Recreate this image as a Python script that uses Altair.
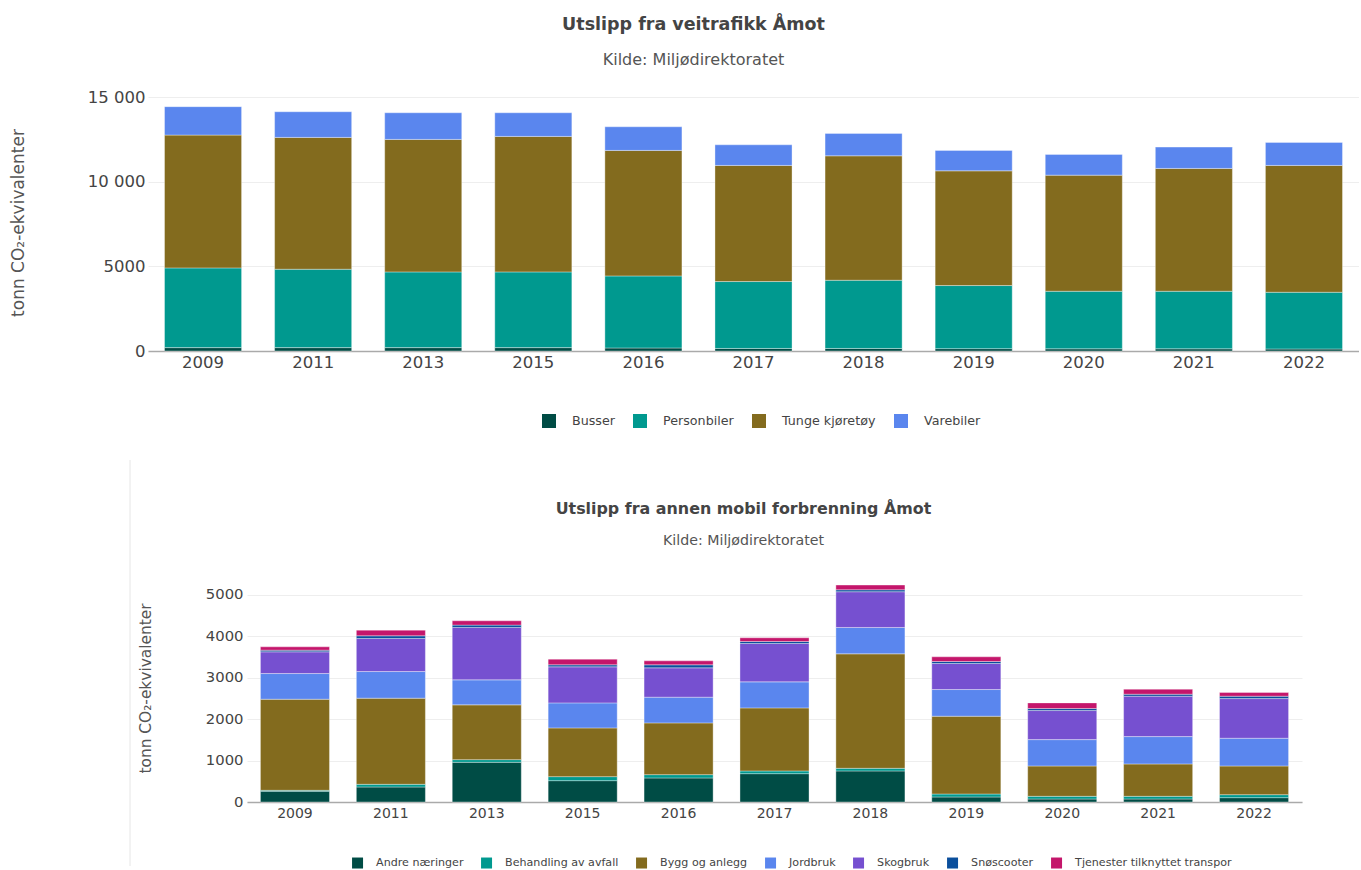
import altair as alt
import pandas as pd

FONT = "DejaVu Sans"

years = ["2009", "2011", "2013", "2015", "2016", "2017", "2018", "2019", "2020", "2021", "2022"]

# --- Utslipp fra veitrafikk ---
top_names = ["Busser", "Personbiler", "Tunge kjøretøy", "Varebiler"]
top_colors = ["#004c45", "#00998f", "#836b1e", "#5a86ee"]
busser = [200, 200, 200, 200, 180, 150, 150, 140, 130, 130, 120]
personbiler = [4714, 4636, 4477, 4477, 4260, 3958, 4035, 3732, 3404, 3404, 3355]
tunge = [7856, 7797, 7838, 8015, 7424, 6867, 7359, 6784, 6867, 7264, 7500]
varebiler = [1680, 1517, 1575, 1398, 1397, 1220, 1326, 1208, 1226, 1261, 1362]

# --- Utslipp fra annen mobil forbrenning ---
bot_names = ["Andre næringer", "Behandling av avfall", "Bygg og anlegg", "Jordbruk",
             "Skogbruk", "Snøscooter", "Tjenester tilknyttet transpor"]
bot_colors = ["#004c45", "#00998f", "#836b1e", "#5a86ee", "#7650d0", "#0b4f9c", "#c4166b"]
andre = [258, 362, 958, 515, 580, 684, 749, 121, 72, 72, 105]
behandling = [24, 65, 64, 97, 80, 65, 64, 72, 65, 65, 72]
bygg = [2197, 2077, 1321, 1175, 1248, 1521, 2761, 1876, 732, 781, 692]
jordbruk = [620, 643, 603, 604, 620, 628, 636, 644, 636, 660, 669]
skogbruk = [523, 797, 1264, 869, 708, 926, 862, 628, 701, 974, 957]
snoscooter = [41, 65, 57, 49, 73, 48, 48, 48, 48, 48, 57]
tjenester = [80, 137, 104, 137, 96, 89, 113, 113, 137, 121, 88]


def long(names, series):
    rows = []
    for i, (n, vals) in enumerate(zip(names, series)):
        for y, v in zip(years, vals):
            rows.append({"year": y, "serie": n, "value": v, "idx": i})
    return pd.DataFrame(rows)


top_df = long(top_names, [busser, personbiler, tunge, varebiler])
bot_df = long(bot_names, [andre, behandling, bygg, jordbruk, skogbruk, snoscooter, tjenester])

label_expr = "datum.value >= 10000 ? replace(format(datum.value, ','), ',', ' ') : format(datum.value, 'd')"

top_chart = alt.Chart(top_df).mark_bar(stroke="white", strokeWidth=0.6, strokeOpacity=0.6).encode(
    x=alt.X("year:N", sort=years, title=None,
            scale=alt.Scale(paddingInner=0.3, paddingOuter=0.15),
            axis=alt.Axis(labelAngle=0, labelFont=FONT, labelFontSize=16.5, labelColor="#444",
                          ticks=False, domainColor="#aaa", domainWidth=1.5, labelPadding=3, grid=False)),
    y=alt.Y("value:Q", stack="zero", scale=alt.Scale(domain=[0, 15200], nice=False),
            axis=alt.Axis(values=[0, 5000, 10000, 15000], labelExpr=label_expr,
                          labelFont=FONT, labelFontSize=16.5, labelColor="#444", labelPadding=3,
                          title="tonn CO₂-ekvivalenter", titleFont=FONT, titleFontSize=17,
                          titleFontWeight="normal", titleColor="#555", titlePadding=60,
                          grid=True, gridColor="#eeeeee", domain=False, ticks=False)),
    color=alt.Color("serie:N", scale=alt.Scale(domain=top_names, range=top_colors),
                    legend=alt.Legend(orient="none", legendX=534, legendY=320, direction="horizontal",
                                      title=None, symbolType="square", symbolSize=196,
                                      symbolStrokeWidth=0, labelFont=FONT, labelFontSize=12.7,
                                      labelColor="#444", labelOffset=16, columnPadding=18, padding=0,
                                      labelLimit=300)),
    order=alt.Order("idx:Q", sort="ascending"),
).properties(
    width=1211, height=257,
    title=alt.TitleParams(text="Utslipp fra veitrafikk Åmot", subtitle="Kilde: Miljødirektoratet",
                          anchor="middle", frame="group", dx=-60, font=FONT, fontSize=17.5,
                          fontWeight="bold", color="#444", subtitleFont=FONT, subtitleFontSize=16,
                          subtitleColor="#555", subtitlePadding=19, offset=21),
)

bot_chart = alt.Chart(bot_df).mark_bar(stroke="white", strokeWidth=0.6, strokeOpacity=0.6).encode(
    x=alt.X("year:N", sort=years, title=None,
            scale=alt.Scale(paddingInner=0.28, paddingOuter=0.14),
            axis=alt.Axis(labelAngle=0, labelFont=FONT, labelFontSize=14, labelColor="#444",
                          ticks=False, domainColor="#aaa", domainWidth=1.5, labelPadding=4, grid=False)),
    y=alt.Y("value:Q", stack="zero", scale=alt.Scale(domain=[0, 5500], nice=False),
            axis=alt.Axis(values=[0, 1000, 2000, 3000, 4000, 5000], format="d",
                          labelFont=FONT, labelFontSize=14.8, labelColor="#444", labelPadding=4,
                          title="tonn CO₂-ekvivalenter", titleFont=FONT, titleFontSize=15.4,
                          titleFontWeight="normal", titleColor="#555", titlePadding=52,
                          grid=True, gridColor="#eeeeee", domain=False, ticks=False)),
    color=alt.Color("serie:N", scale=alt.Scale(domain=bot_names, range=bot_colors),
                    legend=alt.Legend(orient="none", legendX=344, legendY=283, direction="horizontal",
                                      title=None, symbolType="square", symbolSize=121,
                                      symbolStrokeWidth=0, labelFont=FONT, labelFontSize=11.1,
                                      labelColor="#444", labelOffset=13, columnPadding=17, padding=0,
                                      labelLimit=300)),
    order=alt.Order("idx:Q", sort="ascending"),
).properties(
    width=1055, height=228,
    title=alt.TitleParams(text="Utslipp fra annen mobil forbrenning Åmot", subtitle="Kilde: Miljødirektoratet",
                          anchor="middle", frame="group", dx=-31, font=FONT, fontSize=15.9,
                          fontWeight="bold", color="#444", subtitleFont=FONT, subtitleFontSize=14.2,
                          subtitleColor="#555", subtitlePadding=17, offset=26),
)

one = pd.DataFrame({"k": [0]})

# left spacer of the first row (keeps the row's origin at its left edge)
spacer_top = alt.Chart(one).mark_point(opacity=0, size=1).encode(
    x=alt.value(0.5), y=alt.value(1)
).properties(width=1, height=2)

# left spacer of the second row, carrying the thin frame line of the lower figure
spacer_bot = alt.Chart(one).mark_rule(color="#e6e6e6", strokeWidth=1).encode(
    x=alt.value(122), y=alt.value(-114), y2=alt.value(292)
).properties(width=122, height=10)

row1 = alt.hconcat(spacer_top, top_chart, spacing=0)
row2 = alt.hconcat(spacer_bot, bot_chart, spacing=7)

chart = alt.concat(row1, row2, columns=1, spacing=31).resolve_scale(
    color="independent"
).properties(
    padding={"left": 8, "top": 15, "right": 0, "bottom": 0},
    background="white",
).configure_view(stroke=None)

chart.save("out.html", embed_options={"renderer": "svg", "actions": False})
